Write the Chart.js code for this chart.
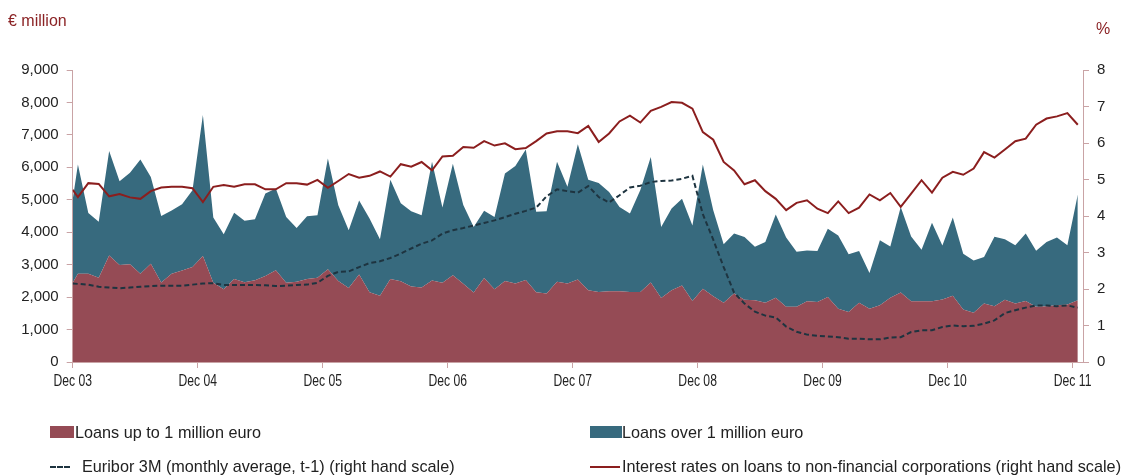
<!DOCTYPE html>
<html>
<head>
<meta charset="utf-8">
<script src="https://cdn.jsdelivr.net/npm/chart.js@4.4.1/dist/chart.umd.min.js"></script>
<style>
  body { margin: 0; background: #fff; }
  #wrap { position: relative; width: 1121px; height: 476px; }
  #myChart { position: absolute; left: 0; top: 0; }
  .unit { position: absolute; color: #8b2325; font: 16px "Liberation Sans", Arial, sans-serif; }
  .leg { position: absolute; font: 17px "Liberation Sans", Arial, sans-serif; color: #222; white-space: nowrap; }
  .leg .txt { display: inline-block; transform: scaleX(0.955); transform-origin: left center; }
  .box { position: absolute; left: 0; top: 3px; width: 24px; height: 12px; }
  .ln { position: absolute; left: 0; top: 9px; width: 30px; }
</style>
</head>
<body>
<div id="wrap">
  <canvas id="myChart" width="1121" height="476"></canvas>
  <div class="unit" style="left:8px; top:12px;">€ million</div>
  <div class="unit" style="left:1096px; top:20px;">%</div>

  <div class="leg" style="left:50px; top:423px; padding-left:25px;"><span class="box" style="background:#954b55"></span><span class="txt">Loans up to 1 million euro</span></div>
  <div class="leg" style="left:590px; top:423px; padding-left:32px;"><span class="box" style="background:#376a7e; width:32px"></span><span class="txt">Loans over 1 million euro</span></div>
  <div class="leg" style="left:50px; top:457px; padding-left:32px;"><span class="ln" style="width:20px; border-top:2px dashed #1e3440"></span><span class="txt">Euribor 3M (monthly average, t-1) (right hand scale)</span></div>
  <div class="leg" style="left:590px; top:457px; padding-left:32px;"><span class="ln" style="border-top:2px solid #8b1e1e"></span><span class="txt">Interest rates on loans to non-financial corporations (right hand scale)</span></div>
</div>
<script>
// tick labels of the horizontal axis (one every 12 months)
const xTickLabels = ["Dec 03", "Dec 04", "Dec 05", "Dec 06", "Dec 07", "Dec 08", "Dec 09", "Dec 10", "Dec 11"];

// monthly values, Dec 03 .. Dec 11 (first value sits on the axis edge)
const loansSmall = [2440,
  2720, 2720, 2600, 3280, 2990, 3010, 2720, 3030, 2450, 2720, 2820, 2930, 3270, 2440, 2240, 2560, 2460, 2520, 2650, 2830, 2440, 2470, 2560, 2600, 2860,
  2500, 2280, 2700, 2150, 2040, 2560, 2490, 2330, 2300, 2510, 2440, 2670, 2410, 2140, 2590, 2240, 2500, 2420, 2530, 2150, 2110, 2470, 2420, 2540,
  2210, 2160, 2180, 2180, 2160, 2160, 2450, 1970, 2210, 2360, 1880, 2260, 2030, 1830, 2110, 1920, 1900, 1830, 1980, 1700, 1700, 1870, 1850, 2000,
  1640, 1540, 1830, 1640, 1750, 1980, 2140, 1870, 1870, 1870, 1930, 2040, 1620, 1520, 1800, 1720, 1920, 1800, 1880, 1700, 1720, 1750, 1770, 1900];

const loansLarge = [2560,
  3370, 1870, 1720, 3220, 2580, 2820, 3520, 2670, 2050, 1950, 2040, 2360, 4340, 2010, 1700, 2040, 1890, 1880, 2540, 2520, 2030, 1660, 1930, 1920, 3410,
  2330, 1780, 2280, 2270, 1740, 3060, 2400, 2320, 2220, 3660, 2320, 3440, 2430, 2020, 2070, 2230, 3310, 3620, 4020, 2480, 2540, 3700, 2980, 4170,
  3410, 3360, 3060, 2600, 2420, 3140, 3870, 2190, 2520, 2670, 2330, 3830, 2650, 1800, 1850, 1930, 1650, 1870, 2570, 2140, 1700, 1570, 1570, 2110,
  2260, 1780, 1590, 1100, 2000, 1580, 2640, 2000, 1590, 2420, 1660, 2410, 1720, 1610, 1440, 2140, 1860, 1800, 2080, 1730, 1980, 2090, 1830, 3260];

const euribor = [2.15,
  2.14, 2.12, 2.06, 2.04, 2.02, 2.04, 2.06, 2.08, 2.09, 2.09, 2.09, 2.12, 2.15, 2.16, 2.11, 2.11, 2.11, 2.11, 2.10, 2.08, 2.09, 2.11, 2.12, 2.17, 2.36,
  2.47, 2.48, 2.60, 2.71, 2.76, 2.85, 2.97, 3.11, 3.24, 3.33, 3.52, 3.61, 3.67, 3.74, 3.81, 3.88, 3.97, 4.06, 4.14, 4.23, 4.54, 4.73, 4.68, 4.64,
  4.82, 4.52, 4.37, 4.57, 4.78, 4.83, 4.93, 4.96, 4.97, 5.02, 5.10, 4.05, 3.35, 2.60, 1.90, 1.60, 1.38, 1.27, 1.22, 0.97, 0.83, 0.75, 0.72, 0.70,
  0.68, 0.64, 0.64, 0.62, 0.62, 0.67, 0.68, 0.82, 0.87, 0.87, 0.96, 1.00, 0.98, 0.99, 1.05, 1.14, 1.34, 1.42, 1.49, 1.55, 1.55, 1.53, 1.55, 1.49];

const loanRate = [4.72,
  4.52, 4.90, 4.88, 4.54, 4.60, 4.51, 4.47, 4.68, 4.78, 4.80, 4.80, 4.76, 4.38, 4.80, 4.85, 4.80, 4.87, 4.87, 4.73, 4.73, 4.90, 4.90, 4.86, 4.99, 4.77,
  4.96, 5.15, 5.05, 5.10, 5.22, 5.08, 5.42, 5.35, 5.48, 5.25, 5.63, 5.65, 5.89, 5.87, 6.05, 5.93, 5.99, 5.83, 5.86, 6.05, 6.26, 6.32, 6.32, 6.27,
  6.47, 6.03, 6.26, 6.59, 6.75, 6.56, 6.88, 6.99, 7.12, 7.10, 6.94, 6.30, 6.09, 5.48, 5.25, 4.87, 4.98, 4.68, 4.47, 4.16, 4.36, 4.43, 4.20, 4.08,
  4.40, 4.08, 4.23, 4.59, 4.43, 4.63, 4.25, 4.61, 4.98, 4.64, 5.05, 5.21, 5.13, 5.30, 5.75, 5.60, 5.82, 6.05, 6.12, 6.50, 6.67, 6.73, 6.82, 6.50];

const axisColor = "#c9a3a5";
const tickFont = { family: "'Liberation Sans', Arial, sans-serif", size: 15 };

// first point sits on the axis edge, the rest are month centres
function toPoints(values) {
  return values.map((v, i) => ({ x: i === 0 ? -0.5 : i - 1, y: v }));
}

// x labels drawn a bit condensed, like the original's narrow font
const narrowXLabels = {
  id: "narrowXLabels",
  afterDraw(chart) {
    const scale = chart.scales.x;
    const ctx = chart.ctx;
    ctx.save();
    ctx.font = "16px 'Liberation Sans', Arial, sans-serif";
    ctx.fillStyle = "#222";
    ctx.textAlign = "center";
    ctx.textBaseline = "middle";
    scale.ticks.forEach((t, i) => {
      ctx.save();
      ctx.translate(scale.getPixelForValue(t.value), scale.top + 20);
      ctx.scale(0.76, 1);
      ctx.fillText(xTickLabels[i], 0, 0);
      ctx.restore();
    });
    ctx.restore();
  },
};

function renderChart(ctx) {
  new Chart(ctx, {
    type: "line",
    data: {
      datasets: [
        {
          label: "Loans up to 1 million euro",
          data: toPoints(loansSmall),
          yAxisID: "y",
          backgroundColor: "#954b55",
          borderWidth: 0,
          pointRadius: 0,
          fill: "origin",
          order: 1,
        },
        {
          label: "Loans over 1 million euro",
          data: toPoints(loansLarge),
          yAxisID: "y",
          backgroundColor: "#376a7e",
          borderWidth: 0,
          pointRadius: 0,
          fill: "-1",
          order: 2,
        },
        {
          label: "Euribor 3M (monthly average, t-1) (right hand scale)",
          data: toPoints(euribor),
          yAxisID: "y1",
          borderColor: "#1e3440",
          borderWidth: 2,
          borderDash: [5, 3],
          pointRadius: 0,
          fill: false,
          order: 0,
        },
        {
          label: "Interest rates on loans to non-financial corporations (right hand scale)",
          data: toPoints(loanRate),
          yAxisID: "y1",
          borderColor: "#8b1e1e",
          borderWidth: 2,
          pointRadius: 0,
          fill: false,
          order: 0,
        },
      ],
    },
    options: {
      responsive: false,
      animation: false,
      devicePixelRatio: 1,
      layout: { padding: { top: 70, bottom: 84, left: 0, right: 0 } },
      plugins: { legend: { display: false }, tooltip: { enabled: false } },
      scales: {
        x: {
          type: "linear",
          min: -0.5,
          max: 96.5,
          afterBuildTicks: (scale) => {
            scale.ticks = xTickLabels.map((l, i) => ({ value: -0.5 + 12 * i }));
          },
          afterFit: (scale) => { scale.height = 30; },
          ticks: {
            autoSkip: false,
            maxRotation: 0,
            callback: () => "",
          },
          grid: { drawOnChartArea: false, color: axisColor, tickLength: 6 },
          border: { color: axisColor },
        },
        y: {
          stacked: true,
          min: 0,
          max: 9000,
          afterFit: (scale) => { scale.width = 72.7; },
          ticks: {
            stepSize: 1000,
            padding: 8,
            color: "#222",
            font: tickFont,
            callback: (v) => v.toLocaleString("en-US"),
          },
          grid: { drawOnChartArea: false, color: axisColor, tickLength: 6 },
          border: { color: axisColor },
        },
        y1: {
          position: "right",
          min: 0,
          max: 8,
          afterFit: (scale) => { scale.width = 38; },
          ticks: { stepSize: 1, padding: 8, color: "#222", font: tickFont },
          grid: { drawOnChartArea: false, color: axisColor, tickLength: 6 },
          border: { color: axisColor },
        },
      },
    },
    plugins: [narrowXLabels],
  });
}

function setup() {
  const ctx = document.getElementById("myChart").getContext("2d");
  renderChart(ctx);
}

window.addEventListener("load", setup);
</script>
</body>
</html>
